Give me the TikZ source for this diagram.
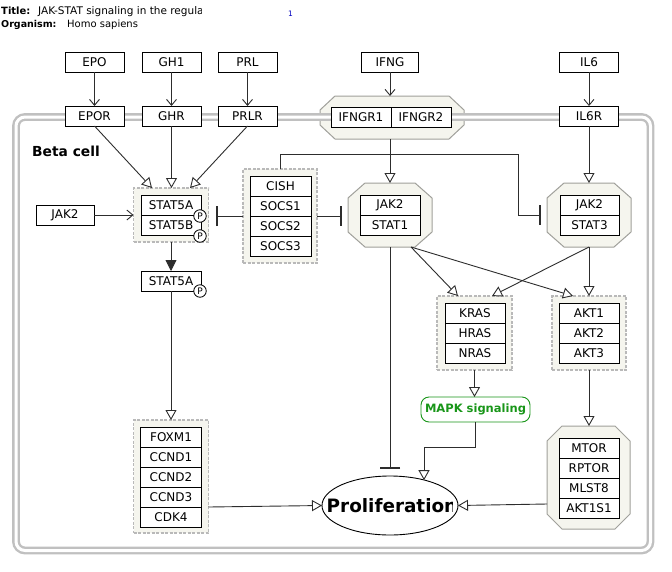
\documentclass[tikz,border=0pt]{standalone}
\usepackage{fontspec}
\setmainfont{DejaVu Sans}
\usetikzlibrary{arrows.meta,calc,shapes.geometric}
\definecolor{connc}{RGB}{45,45,45}
\definecolor{grpfill}{RGB}{245,245,238}
\definecolor{grpline}{RGB}{185,185,185}
\definecolor{octline}{RGB}{160,160,155}
\definecolor{cellline}{RGB}{192,192,192}
\definecolor{mapkgreen}{RGB}{25,150,25}
\definecolor{numblue}{RGB}{0,0,190}
\tikzset{
  gene/.style={draw=black, fill=white, line width=0.9pt, minimum height=20pt, inner sep=0pt, outer sep=0pt, font=\fontsize{12}{14}\selectfont},
  grpbg/.style={draw=grpline, fill=grpfill, line width=1.2pt, dash pattern=on 3pt off 1.5pt, inner sep=0pt, outer sep=0pt},
  octbox/.style={inner sep=0pt, outer sep=0pt},
  octo/.style={draw=octline, fill=grpfill, line width=1pt},
  pcirc/.style={circle, draw=black, fill=white, line width=0.8pt, minimum size=12.5pt, inner sep=0pt, font=\fontsize{9}{10}\selectfont},
  conn/.style={draw=connc, line width=0.9pt},
  act/.style={conn, -{Triangle[length=10pt,width=11pt,fill=white]}},
  conv/.style={conn, -{Straight Barb[length=6pt,width=10pt]}},
  inh/.style={conn, -{Bar[width=20pt,line width=2.2pt]}},
  trans/.style={conn, -{Triangle[length=11pt,width=11pt]}},
}
\newcommand\octodraw[3]{%
  \draw[octo] ($(#1.north west)+(#2,0)$) -- ($(#1.north east)+(-#2,0)$) -- ($(#1.north east)+(0,#3)$) -- ($(#1.south east)+(0,-#3)$) -- ($(#1.south east)+(-#2,0)$) -- ($(#1.south west)+(#2,0)$) -- ($(#1.south west)+(0,-#3)$) -- ($(#1.north west)+(0,#3)$) -- cycle;}
\begin{document}
\begin{tikzpicture}[x=1pt,y=-1pt]
\useasboundingbox (0,0) rectangle (672,571);
\fill[white] (0,0) rectangle (672,571);

% header
\node[anchor=base west, inner sep=0pt, font=\fontsize{10}{12}\selectfont\bfseries] (tlab) at (1,14) {Title:};
\begin{scope}
  \clip (30,0) rectangle (201,20);
  \node[anchor=base west, inner sep=0pt, font=\fontsize{10.5}{12}\selectfont] (tval) at (38,14) {JAK-STAT signaling in the regulation};
\end{scope}
\node[anchor=base west, inner sep=0pt, font=\fontsize{9.5}{12}\selectfont\bfseries] (olab) at (1,27) {Organism:};
\node[anchor=base west, inner sep=0pt, font=\fontsize{10}{12}\selectfont] (oval) at (67,27) {Homo sapiens};
\node[anchor=base west, inner sep=0pt, text=numblue, font=\fontsize{7.5}{8}\selectfont] (num) at (288,16) {1};

% octagon complexes (placeholders)
\node[octbox, minimum width=144pt, minimum height=43pt] (ifngr) at (392,117.5) {};
\node[octbox, minimum width=84pt, minimum height=64pt] (j1) at (390,215) {};
\node[octbox, minimum width=84pt, minimum height=64pt] (j3) at (589,215) {};
\node[octbox, minimum width=83pt, minimum height=103pt] (mt) at (588.5,477.5) {};
\octodraw{ifngr}{15}{14}
\octodraw{j1}{17}{15}
\octodraw{j3}{17}{15}
\octodraw{mt}{15}{15}

% cell boundary
\draw[cellline, line width=2.4pt, double=white, double distance=3pt, rounded corners=9pt] (16,117) rectangle (650.5,550.5);
\node[anchor=base west, inner sep=0pt, font=\fontsize{13.8}{15}\selectfont\bfseries] (beta) at (32,156) {Beta cell};

% groups
\node[grpbg, minimum width=75pt, minimum height=54pt] (s5g) at (171,215) {};
\node[grpbg, minimum width=74pt, minimum height=94pt] (socs) at (280,216) {};
\node[grpbg, minimum width=75pt, minimum height=74pt] (kg) at (474.5,333) {};
\node[grpbg, minimum width=74pt, minimum height=74pt] (ag) at (589,333) {};
\node[grpbg, minimum width=75pt, minimum height=113pt] (fg) at (171,476.5) {};

% ligands and receptors
\node[gene, minimum width=59pt] (epo) at (94.5,62) {EPO};
\node[gene, minimum width=59pt] (gh1) at (171.5,62) {GH1};
\node[gene, minimum width=59pt] (prl) at (247.5,62) {PRL};
\node[gene, minimum width=57pt] (ifng) at (390,62) {IFNG};
\node[gene, minimum width=59pt] (il6) at (589,62) {IL6};
\node[gene, minimum width=59pt] (epor) at (94.5,116) {EPOR};
\node[gene, minimum width=59pt] (ghr) at (171.5,116) {GHR};
\node[gene, minimum width=59pt] (prlr) at (247.5,116) {PRLR};
\node[gene, minimum width=59pt] (il6r) at (589,116) {IL6R};
\node[gene, minimum width=60pt] (ifngr1) at (361,117) {IFNGR1};
\node[gene, minimum width=60pt] (ifngr2) at (421,117) {IFNGR2};

% left side
\node[gene, minimum width=58pt] (jak2a) at (65,215) {JAK2};
\node[gene, minimum width=60pt] (stat5a) at (171,205) {STAT5A};
\node[gene, minimum width=60pt] (stat5b) at (171,225) {STAT5B};
\node[pcirc] (p1) at (200,216) {P};
\node[pcirc] (p2) at (200,236) {P};
\node[gene, minimum width=60pt] (s5a) at (171,281) {STAT5A};
\node[pcirc] (p3) at (200,291) {P};

\node[gene, minimum width=61pt] (cish) at (280.5,186) {CISH};
\node[gene, minimum width=61pt] (socs1) at (280.5,206) {SOCS1};
\node[gene, minimum width=61pt] (socs2) at (280.5,226) {SOCS2};
\node[gene, minimum width=61pt] (socs3) at (280.5,246) {SOCS3};

\node[gene, minimum width=61pt] (foxm1) at (171,437) {FOXM1};
\node[gene, minimum width=61pt] (ccnd1) at (171,457) {CCND1};
\node[gene, minimum width=61pt] (ccnd2) at (171,477) {CCND2};
\node[gene, minimum width=61pt] (ccnd3) at (171,497) {CCND3};
\node[gene, minimum width=61pt] (cdk4) at (171,517) {CDK4};

% JAK complexes
\node[gene, minimum width=60pt] (jak2b) at (390,205) {JAK2};
\node[gene, minimum width=60pt] (stat1) at (390,225) {STAT1};
\node[gene, minimum width=59pt] (jak2c) at (589.5,205) {JAK2};
\node[gene, minimum width=59pt] (stat3) at (589.5,225) {STAT3};

\node[gene, minimum width=60pt] (kras) at (475,313) {KRAS};
\node[gene, minimum width=60pt] (hras) at (475,333) {HRAS};
\node[gene, minimum width=60pt] (nras) at (475,353) {NRAS};
\node[gene, minimum width=60pt] (akt1) at (589,313) {AKT1};
\node[gene, minimum width=60pt] (akt2) at (589,333) {AKT2};
\node[gene, minimum width=60pt] (akt3) at (589,353) {AKT3};

\node[gene, minimum width=60pt] (mtor) at (589,448) {MTOR};
\node[gene, minimum width=60pt] (rptor) at (589,468) {RPTOR};
\node[gene, minimum width=60pt] (mlst8) at (589,488) {MLST8};
\node[gene, minimum width=60pt] (akt1s1) at (589,508) {AKT1S1};

\node[draw=mapkgreen, fill=white, rounded corners=8pt, text=mapkgreen, line width=0.9pt, minimum width=109pt, minimum height=25pt, inner sep=0pt, outer sep=0pt, font=\fontsize{11.5}{13}\selectfont\bfseries] (mapk) at (475.5,409.5) {MAPK signaling};

\node[ellipse, draw=black, fill=white, line width=0.9pt, minimum width=136pt, minimum height=59pt, inner sep=0pt, outer sep=0pt] (prolif) at (390,505.5) {};
\begin{scope}
  \clip (322,470) rectangle (452,540);
  \node[anchor=west, inner sep=0pt, font=\fontsize{18.4}{21}\selectfont\bfseries] (proltext) at (326.5,506) {Proliferation};
\end{scope}

% helper coordinates
\coordinate (s5bar) at ($(s5g.east)+(7,0)$);
\coordinate (j1bar) at ($(j1.west)+(-6,0)$);
\coordinate (j3bar) at ($(j3.west)+(-6,0)$);
\coordinate (cturn) at (518,154);
\coordinate (prbar) at ($(prolif.north)+(0,-7)$);
\coordinate (j1o) at ($(j1.south)+(21,0)$);
\coordinate (mturn) at (424,447);
\coordinate (mtw) at ($(mt.west)+(0,26.5)$);
\coordinate (fge) at ($(fg.east)+(0,30.5)$);

% connectors
\draw[conv] (epo) -- (epor);
\draw[conv] (gh1) -- (ghr);
\draw[conv] (prl) -- (prlr);
\draw[conv] (ifng.south) -- (ifng.south |- ifngr.north);
\draw[conv] (il6) -- (il6r);
\draw[conv] (jak2a.east) -- (s5g.west);

\draw[act] (epor.south) -- ([xshift=-19pt]s5g.north);
\draw[act] (ghr.south) -- (ghr.south |- s5g.north);
\draw[act] (prlr.south) -- ([xshift=19pt]s5g.north);
\draw[act] (j1.north |- ifngr.south) -- (j1.north);
\draw[act] (il6r.south) -- (j3.north);

\draw[trans] (s5g.south) -- (s5a.north);
\draw[act] (s5a.south) -- (fg.north);

\draw[inh] (socs.west) -- (socs.west -| s5bar);
\draw[inh] (socs.east) -- (socs.east -| j1bar);
\draw[inh] (socs.north) |- (cturn) |- (j3bar);

\draw[act] (j1o) -- ([xshift=-16.5pt]kg.north);
\draw[act] (j1o) -- ([xshift=-16pt]ag.north);
\draw[act] (j3.south) -- ([xshift=17.5pt]kg.north);
\draw[act] (j3.south) -- (ag.north);

\draw[inh] (j1.south) -- (prbar);
\draw[act] (kg.south) -- (kg.south |- mapk.north);
\draw[act] (mapk.south) |- (mturn) -- (mturn |- prolif.36.87);
\draw[act] (ag.south) -- (ag.south |- mt.north);
\draw[act] (mtw) -- (prolif.east);
\draw[act] (fge) -- (prolif.west);
\end{tikzpicture}
\end{document}
